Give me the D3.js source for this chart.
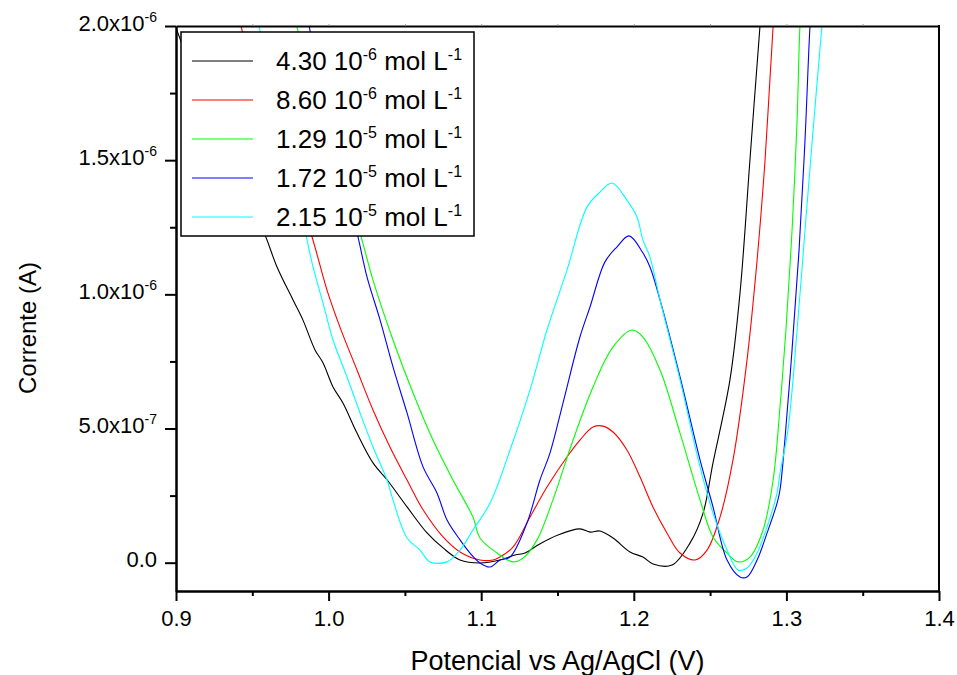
<!DOCTYPE html>
<html><head><meta charset="utf-8">
<script src="https://cdn.jsdelivr.net/npm/d3@7"></script>
<style>
body{margin:0;background:#fff}
svg{display:block;font-family:Arial,"Liberation Sans",sans-serif}
text{white-space:pre}
</style>
</head><body>
<svg id="c" width="957" height="675"></svg>
<script>
// ---- data (potential in V, current in µA) ----
const seriesNames = ["4.30 10", "8.60 10", "1.29 10", "1.72 10", "2.15 10"];
const seriesExp = ["-6", "-6", "-5", "-5", "-5"];
const seriesColors = ["#000000", "#ff0000", "#00ff00", "#0000ff", "#00ffff"];

const blackV = [0.9000,0.9039,0.9157,0.9354,0.9570,0.9662,0.9767,0.9832,0.9911,0.9963,1.0029,1.0094,1.0186,1.0291,1.0383,1.0514,1.0645,1.0750,1.0861,1.0992,1.1123,1.1222,1.1287,1.1372,1.1503,1.1647,1.1713,1.1778,1.1864,1.1975,1.2060,1.2126,1.2250,1.2368,1.2454,1.2519,1.2630,1.2696,1.2761,1.2827,1.2834];
const blackI = [1.993,1.933,1.743,1.482,1.240,1.102,0.979,0.904,0.793,0.745,0.655,0.595,0.483,0.372,0.309,0.208,0.111,0.055,0.010,-0.001,0.010,0.029,0.036,0.066,0.103,0.126,0.114,0.118,0.092,0.040,0.021,-0.005,-0.009,0.073,0.185,0.372,0.681,1.005,1.500,2.000,2.041];

const redV = [0.9413,0.9426,0.9583,0.9734,0.9878,0.9990,1.0075,1.0186,1.0291,1.0402,1.0514,1.0619,1.0750,1.0861,1.0992,1.1077,1.1123,1.1208,1.1320,1.1431,1.1562,1.1647,1.1733,1.1798,1.1864,1.1955,1.2041,1.2126,1.2218,1.2303,1.2401,1.2480,1.2565,1.2650,1.2742,1.2808,1.2860,1.2913,1.2920];
const redI = [2.041,2.000,1.706,1.463,1.239,1.015,0.877,0.718,0.569,0.431,0.308,0.197,0.096,0.040,0.010,0.010,0.021,0.058,0.170,0.282,0.394,0.457,0.506,0.509,0.487,0.420,0.319,0.207,0.110,0.036,0.010,0.047,0.170,0.383,0.756,1.128,1.500,2.000,2.041];

const greenV = [0.9780,0.9791,0.9944,1.0088,1.0219,1.0291,1.0422,1.0553,1.0684,1.0815,1.0946,1.0992,1.1104,1.1208,1.1274,1.1366,1.1470,1.1602,1.1733,1.1864,1.1988,1.2060,1.2172,1.2303,1.2434,1.2519,1.2611,1.2683,1.2761,1.2847,1.2913,1.2958,1.2997,1.3037,1.3070,1.3089,1.3096];
const greenI = [2.041,2.000,1.724,1.445,1.202,1.053,0.830,0.633,0.457,0.308,0.170,0.092,0.036,0.003,0.017,0.085,0.234,0.457,0.655,0.804,0.867,0.841,0.718,0.483,0.234,0.096,0.036,0.003,0.021,0.122,0.308,0.580,0.867,1.239,1.649,2.000,2.041];

const blueV = [0.9858,0.9872,0.9976,1.0088,1.0193,1.0252,1.0337,1.0422,1.0514,1.0619,1.0710,1.0776,1.0861,1.0927,1.0992,1.1058,1.1123,1.1189,1.1300,1.1385,1.1451,1.1536,1.1647,1.1713,1.1811,1.1890,1.1969,1.2060,1.2106,1.2172,1.2303,1.2434,1.2519,1.2611,1.2696,1.2742,1.2808,1.2873,1.2939,1.2958,1.2990,1.3037,1.3083,1.3122,1.3155,1.3162];
const blueI = [2.041,2.000,1.724,1.463,1.213,1.064,0.905,0.730,0.558,0.357,0.260,0.159,0.085,0.036,-0.001,-0.016,0.010,0.021,0.148,0.308,0.409,0.595,0.841,0.953,1.121,1.177,1.218,1.154,1.102,0.979,0.692,0.383,0.208,0.010,-0.053,-0.053,0.010,0.110,0.222,0.271,0.457,0.793,1.165,1.575,2.000,2.041];

const cyanV = [0.9531,0.9544,0.9649,0.9747,0.9845,0.9898,0.9963,1.0029,1.0121,1.0206,1.0291,1.0383,1.0422,1.0514,1.0599,1.0664,1.0776,1.0861,1.0946,1.1058,1.1189,1.1320,1.1431,1.1562,1.1693,1.1778,1.1857,1.1955,1.2021,1.2060,1.2106,1.2172,1.2303,1.2434,1.2519,1.2611,1.2683,1.2742,1.2808,1.2873,1.2939,1.2958,1.3010,1.3070,1.3122,1.3175,1.3233,1.3240];
const cyanI = [2.041,2.000,1.724,1.482,1.239,1.102,0.968,0.830,0.692,0.558,0.431,0.308,0.234,0.092,0.047,0.003,0.003,0.047,0.122,0.222,0.420,0.644,0.867,1.090,1.325,1.381,1.415,1.351,1.288,1.202,1.139,0.979,0.681,0.357,0.185,0.047,-0.027,-0.020,0.036,0.133,0.260,0.334,0.494,0.867,1.239,1.612,2.000,2.041];

const xMajorTicks = [0.9, 1.0, 1.1, 1.2, 1.3, 1.4];
const xMinorTicks = [0.95, 1.05, 1.15, 1.25, 1.35];
const yMajorTicks = [0, 5e-7, 1e-6, 1.5e-6, 2e-6];
const yMinorTicks = [2.5e-7, 7.5e-7, 1.25e-6, 1.75e-6];
const UNIT = 1e-6;
const xTitle = "Potencial vs Ag/AgCl (V)";
const yTitle = "Corrente (A)";

// ---- layout ----
const svg = d3.select("#c");
const P = {l: 176, r: 939, t: 26, b: 591};
const x = d3.scaleLinear().domain([0.9, 1.4]).range([P.l, P.r]);
const y = d3.scaleLinear().domain([-1.055e-7, 2.0e-6]).range([P.b, P.t]);

const series = [
  {V: blackV, I: blackI}, {V: redV, I: redI}, {V: greenV, I: greenI},
  {V: blueV, I: blueI}, {V: cyanV, I: cyanI}
];

svg.append("defs").append("clipPath").attr("id", "clip")
  .append("rect").attr("x", P.l).attr("y", P.t).attr("width", P.r - P.l).attr("height", P.b - P.t);

const line = d3.line().curve(d3.curveCatmullRom.alpha(0.5))
  .x(d => x(d[0])).y(d => y(d[1] * UNIT));
const plot = svg.append("g").attr("clip-path", "url(#clip)");
series.forEach((s, i) => {
  const pts = s.V.map((v, k) => [v, s.I[k]]);
  plot.append("path").datum(pts).attr("d", line)
    .attr("fill", "none").attr("stroke", seriesColors[i]).attr("stroke-width", 1.1)
    .attr("stroke-linejoin", "round");
});

// ---- axes ----
function styleAxis(g, w) {
  g.select(".domain").attr("stroke", "#000").attr("stroke-width", w);
  g.selectAll(".tick line").attr("stroke", "#000").attr("stroke-width", 2);
}
const xAx = svg.append("g").attr("transform", `translate(0,${P.b})`)
  .call(d3.axisBottom(x).tickValues(xMajorTicks).tickSize(10).tickSizeOuter(0).tickPadding(9).tickFormat(d3.format(".1f")));
styleAxis(xAx, 2);
xAx.selectAll("text").attr("font-size", 22).attr("font-family", "Arial, 'Liberation Sans', sans-serif").attr("fill", "#000");
const xMin = svg.append("g").attr("transform", `translate(0,${P.b})`)
  .call(d3.axisBottom(x).tickValues(xMinorTicks).tickSize(5).tickSizeOuter(0).tickFormat(""));
styleAxis(xMin, 2);

const yAx = svg.append("g").attr("transform", `translate(${P.l},0)`)
  .call(d3.axisLeft(y).tickValues(yMajorTicks).tickSize(11).tickSizeOuter(0).tickFormat(""));
styleAxis(yAx, 2);
const yMin = svg.append("g").attr("transform", `translate(${P.l},0)`)
  .call(d3.axisLeft(y).tickValues(yMinorTicks).tickSize(6).tickSizeOuter(0).tickFormat(""));
styleAxis(yMin, 2);

yAx.selectAll(".tick").each(function(d) {
  const t = d3.select(this).append("text").attr("x", -19).attr("y", 4)
    .attr("text-anchor", "end").attr("fill", "#000").attr("font-size", 22);
  if (d === 0) { t.text("0.0"); return; }
  const e = Math.floor(Math.log10(Math.abs(d)) + 1e-9);
  const m = d / Math.pow(10, e);
  t.append("tspan").text(m.toFixed(1) + "x10");
  t.append("tspan").attr("dy", -9).attr("font-size", 14).text(String(e));
});

// top and right frame
const topAx = svg.append("g").attr("transform", `translate(0,${P.t})`)
  .call(d3.axisTop(x).tickValues(xMinorTicks.concat(xMajorTicks.slice(1, -1))).tickSize(2).tickSizeOuter(0).tickFormat(""));
styleAxis(topAx, 2);
topAx.selectAll(".tick line").attr("stroke", "#999").attr("stroke-width", 1);
svg.append("line").attr("x1", P.r).attr("x2", P.r).attr("y1", P.t - 1).attr("y2", P.b + 1)
  .attr("stroke", "#000").attr("stroke-width", 2);

// ---- titles ----
svg.append("text").attr("x", (P.l + P.r) / 2).attr("y", 670).attr("text-anchor", "middle")
  .attr("font-size", 27).attr("fill", "#000").text(xTitle);
svg.append("text").attr("transform", "translate(36,328) rotate(-90)").attr("text-anchor", "middle")
  .attr("font-size", 24).attr("fill", "#000").text(yTitle);

// ---- legend ----
const lg = svg.append("g");
lg.append("rect").attr("x", 181).attr("y", 32).attr("width", 293).attr("height", 204)
  .attr("fill", "#fff").attr("stroke", "#000").attr("stroke-width", 1.5);
seriesNames.forEach((n, i) => {
  const yy = 61 + i * 39;
  lg.append("line").attr("x1", 192).attr("x2", 253).attr("y1", yy).attr("y2", yy)
    .attr("stroke", seriesColors[i]).attr("stroke-width", 1.2);
  const t = lg.append("text").attr("x", 276).attr("y", yy + 9).attr("font-size", 26).attr("fill", "#000");
  t.append("tspan").text(n);
  t.append("tspan").attr("dy", -10).attr("font-size", 16).text(seriesExp[i]);
  t.append("tspan").attr("dy", 10).text(" mol L");
  t.append("tspan").attr("dy", -10).attr("font-size", 16).text("-1");
});
</script>
</body></html>
